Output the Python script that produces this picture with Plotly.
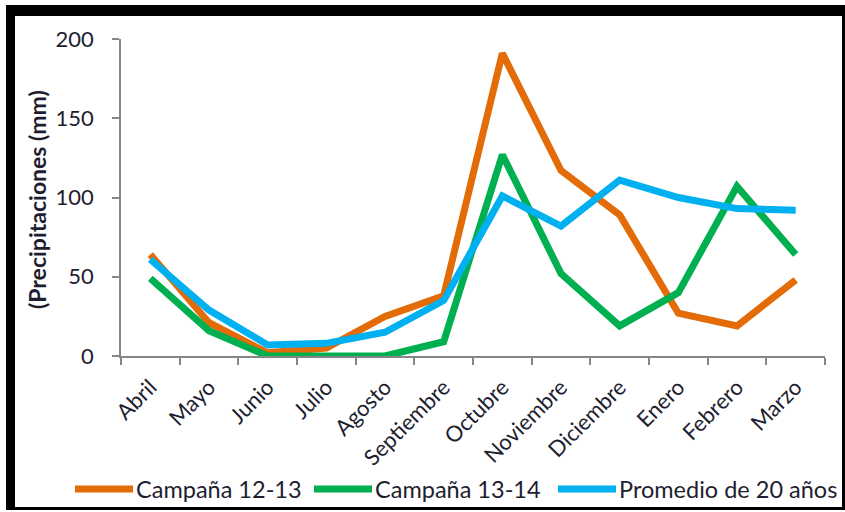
import plotly.graph_objects as go

# Monthly rainfall (mm), April through March
meses = ["Abril", "Mayo", "Junio", "Julio", "Agosto", "Septiembre",
         "Octubre", "Noviembre", "Diciembre", "Enero", "Febrero", "Marzo"]
campana_12_13 = [64, 21, 2, 5, 25, 38, 191, 117, 89, 27, 19, 48]
campana_13_14 = [49, 16, 0, 0, 0, 9, 127, 52, 19, 40, 107, 64]
promedio_20 = [61, 29, 7, 8, 15, 35, 101, 82, 111, 100, 93, 92]

series_names = ["Campaña 12-13", "Campaña 13-14", "Promedio de 20 años"]
series_values = [campana_12_13, campana_13_14, promedio_20]
series_colors = ["#E36C09", "#00B050", "#00B0F0"]

y_ticks = [0, 50, 100, 150, 200]

W, H = 845, 512
L, R, T, B = 121, 20, 39, 156
PW, PH = W - L - R, H - T - B

def px(x):
    return (x - L) / PW

def py(y):
    return (H - B - y) / PH

FONT = "Lato"
TXT = "#1e1e30"

fig = go.Figure()
for name, vals, col in zip(series_names, series_values, series_colors):
    fig.add_trace(go.Scatter(x=meses, y=vals, name=name, mode="lines",
                             line=dict(color=col, width=7),
                             showlegend=False))

shapes = []
# frame around the chart
for x0, x1, y0, y1 in [(6, 845, 5, 16), (6, 15, 5, 510),
                       (6, 845, 507, 510), (842, 845, 5, 510)]:
    shapes.append(dict(type="rect", xref="paper", yref="paper",
                       x0=px(x0), x1=px(x1), y0=py(y1), y1=py(y0),
                       fillcolor="black", line=dict(width=0), layer="above"))

annotations = [dict(text="<b>(Precipitaciones (mm)</b>", textangle=-90,
                    xref="paper", yref="paper", x=px(37), y=py(200),
                    xanchor="center", yanchor="middle",
                    showarrow=False, font=dict(family=FONT, size=23, color=TXT))]

# legend drawn along the bottom
legend_x = [75, 314, 558]
leg_y = 489
for lx, name, col in zip(legend_x, series_names, series_colors):
    shapes.append(dict(type="line", xref="paper", yref="paper",
                       x0=px(lx), x1=px(lx + 58), y0=py(leg_y), y1=py(leg_y),
                       line=dict(color=col, width=7)))
    annotations.append(dict(text=name, xref="paper", yref="paper",
                            x=px(lx + 59), y=py(leg_y), xanchor="left",
                            yanchor="middle", showarrow=False,
                            font=dict(family=FONT, size=23.5, color=TXT)))

fig.update_layout(
    width=W, height=H,
    margin=dict(l=L, r=R, t=T, b=B),
    paper_bgcolor="white", plot_bgcolor="white",
    shapes=shapes, annotations=annotations,
    xaxis=dict(type="category", range=[-0.5, 11.5], tickson="boundaries",
               ticks="outside", ticklen=7, tickcolor="#868686", tickwidth=1.5,
               showline=True, linecolor="#868686", linewidth=1.5,
               showgrid=False, tickangle=-45, ticklabelstandoff=8,
               tickfont=dict(family=FONT, size=22, color=TXT)),
    yaxis=dict(range=[0, 200], tickvals=y_ticks, ticks="outside",
               ticklen=7, tickcolor="#868686", tickwidth=1.5,
               showline=True, linecolor="#868686", linewidth=1.5,
               showgrid=False, zeroline=False, ticklabelstandoff=14,
               tickfont=dict(family=FONT, size=22, color=TXT)),
)

fig.write_html("out.html")
